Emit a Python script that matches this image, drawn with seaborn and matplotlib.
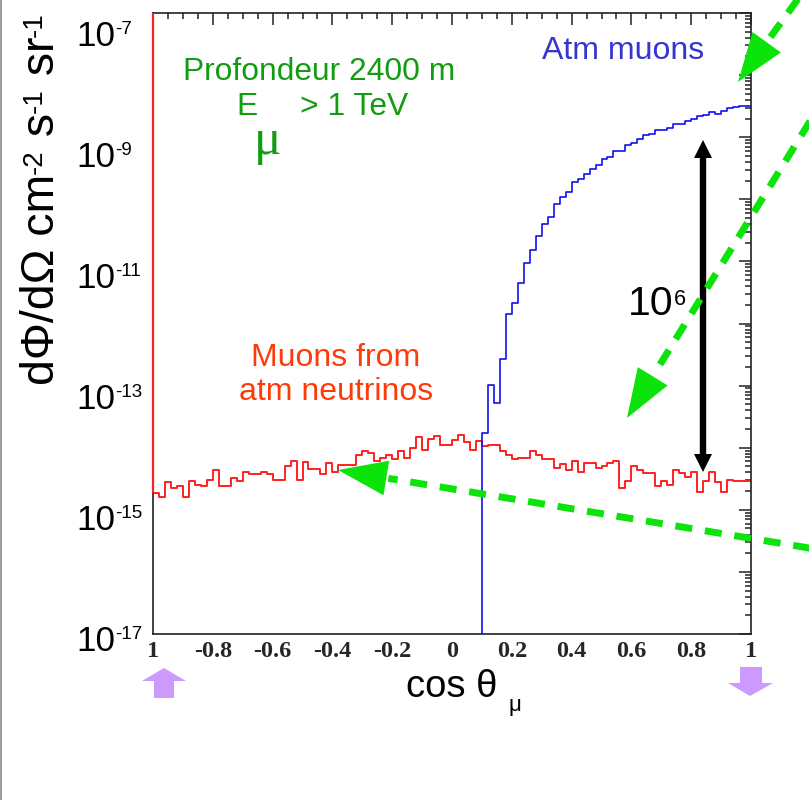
import numpy as np
import pandas as pd
import matplotlib
matplotlib.use("Agg")
import matplotlib.pyplot as plt
import seaborn as sns
from matplotlib.lines import Line2D
from matplotlib.patches import Polygon
from matplotlib.ticker import FixedLocator, LogLocator, MultipleLocator, NullFormatter
from matplotlib import transforms

# ---------------------------------------------------------------------------
# Data: 100 bins in cos(theta_mu) between -1 and 1 (width 0.02)
# ---------------------------------------------------------------------------
bin_edges = [round(-1.0 + 0.02 * i, 2) for i in range(101)]
bin_centers = [round(-0.99 + 0.02 * i, 2) for i in range(100)]

# log10 of dPhi/dOmega [cm^-2 s^-1 sr^-1] for muons induced by atmospheric neutrinos
nu_muon_log10 = [
    -14.73, -14.80, -14.56, -14.65, -14.61, -14.80, -14.54, -14.60, -14.62, -14.52,
    -14.36, -14.62, -14.62, -14.49, -14.54, -14.39, -14.42, -14.42, -14.39, -14.43,
    -14.52, -14.52, -14.29, -14.21, -14.52, -14.23, -14.34, -14.34, -14.43, -14.25,
    -14.39, -14.28, -14.28, -14.28, -14.12, -14.05, -14.09, -14.22, -14.17, -14.12,
    -14.18, -14.05, -14.16, -14.00, -13.83, -14.04, -13.86, -13.81, -13.95, -13.96,
    -13.88, -13.80, -13.91, -14.03, -13.90, -13.98, -13.96, -13.95, -14.05, -14.11,
    -14.18, -14.16, -14.16, -14.06, -14.11, -14.18, -14.18, -14.33, -14.27, -14.36,
    -14.21, -14.39, -14.24, -14.25, -14.33, -14.29, -14.25, -14.21, -14.65, -14.54,
    -14.29, -14.36, -14.40, -14.40, -14.61, -14.54, -14.60, -14.36, -14.40, -14.47,
    -14.39, -14.71, -14.54, -14.39, -14.56, -14.72, -14.52, -14.53, -14.53, -14.53,
]

# log10 flux of atmospheric muons, only for cos(theta_mu) >= 0.10 (bins 55..99)
atm_muon_first_bin = 55
atm_muon_log10 = [
    -13.76, -12.99, -13.28, -12.57, -11.85, -11.67, -11.34, -11.03, -10.81, -10.59,
    -10.39, -10.28, -10.08, -9.97, -9.88, -9.72, -9.68, -9.59, -9.51, -9.44,
    -9.35, -9.32, -9.22, -9.22, -9.13, -9.09, -9.03, -8.97, -8.95, -8.88,
    -8.88, -8.85, -8.78, -8.78, -8.74, -8.70, -8.66, -8.64, -8.59, -8.62,
    -8.58, -8.53, -8.51, -8.49, -8.49,
]

x_tick_values = [-1.0, -0.8, -0.6, -0.4, -0.2, 0.0, 0.2, 0.4, 0.6, 0.8, 1.0]
x_tick_labels = ["1", "-0.8", "-0.6", "-0.4", "-0.2", "0", "0.2", "0.4", "0.6", "0.8", "1"]
y_label_exponents = [-7, -9, -11, -13, -15, -17]

nu_flux = 10.0 ** np.array(nu_muon_log10)
atm_flux = np.zeros(len(bin_centers))
atm_flux[atm_muon_first_bin:] = 10.0 ** np.array(atm_muon_log10)

df = pd.DataFrame({"cos_theta": bin_centers, "nu_flux": nu_flux, "atm_flux": atm_flux})

# ---------------------------------------------------------------------------
# Style
# ---------------------------------------------------------------------------
sns.set_style("white")
plt.rcParams["font.family"] = ["Liberation Sans", "DejaVu Sans"]

W, H = 809.0, 800.0
fig = plt.figure(figsize=(W / 100, H / 100), dpi=100)
fig.patch.set_facecolor("white")
ax = fig.add_axes([153 / W, 1 - 634 / H, 598 / W, 621 / H])
ax.set_yscale("log")
renderer = fig.canvas.get_renderer()


def fpx(x, y):
    """Figure-fraction coordinates from pixel position (origin top-left)."""
    return x / W, 1.0 - y / H


def chain_text(x, y, pieces, rotation=0, **kw):
    """Write text pieces one after another; each piece is (text, size, rise_px)."""
    ang = np.deg2rad(rotation)
    d = np.array([np.cos(ang), np.sin(ang)])
    n = np.array([-np.sin(ang), np.cos(ang)])
    pos = np.array([x, H - y], float)
    for s, size, rise in pieces:
        p = pos + n * rise
        t = fig.text(p[0] / W, p[1] / H, s, rotation=rotation, rotation_mode="anchor",
                     ha="left", va="baseline", fontsize=size, **kw)
        bb = t.get_window_extent(renderer)
        pos = pos + d * (bb.width if rotation == 0 else bb.height)


red = "#ff2020"
blue = "#1010ee"

# Histograms
sns.histplot(data=df, x="cos_theta", weights="nu_flux", bins=bin_edges,
             element="step", fill=False, color=red, linewidth=1.4, ax=ax)
sns.histplot(data=df, x="cos_theta", weights="atm_flux", bins=bin_edges,
             element="step", fill=False, color=blue, linewidth=1.2, ax=ax)

ax.set_xlim(-1, 1)
ax.set_ylim(1e-17, 1e-7)
ax.set_xlabel("")
ax.set_ylabel("")

# left edge of the neutrino histogram runs up to the frame top
ax.vlines(-1.0, nu_flux[0], 1e-7, color=red, lw=1.6, clip_on=False, zorder=5)

# Axes frame and ticks
for side in ["top", "bottom", "right", "left"]:
    ax.spines[side].set_color("#222222")
    ax.spines[side].set_linewidth(1.2)

ax.xaxis.set_major_locator(FixedLocator(x_tick_values))
ax.xaxis.set_minor_locator(MultipleLocator(0.05))
ax.set_xticklabels(x_tick_labels, fontfamily="Liberation Serif",
                   fontweight="bold", fontsize=17.5)
ax.yaxis.set_major_locator(FixedLocator([10.0 ** k for k in range(-17, -6)]))
ax.yaxis.set_minor_locator(LogLocator(base=10, subs=np.arange(2, 10), numticks=100))
ax.yaxis.set_major_formatter(NullFormatter())
ax.yaxis.set_minor_formatter(NullFormatter())
ax.tick_params(which="both", direction="in", top=True, right=True,
               color="#222222", width=1.1)
ax.tick_params(which="major", length=8.6)
ax.tick_params(which="minor", length=4.3)
ax.tick_params(axis="x", which="major", pad=5)

# Decade labels 10^k on the left axis (label sits a little below its tick)
ytrans = ax.get_yaxis_transform()
label_drop = [32.5, 29.4, 26.3, 23.2, 20.1, 17.1]
for k, drop in zip(y_label_exponents, label_drop):
    base = transforms.offset_copy(ytrans, fig=fig, x=-38, y=-drop, units="dots")
    ax.text(0, 10.0 ** k, "10", transform=base, ha="right", va="baseline",
            fontsize=25.2, color="black")
    sup = transforms.offset_copy(ytrans, fig=fig, x=-38, y=-drop + 12, units="dots")
    ax.text(0, 10.0 ** k, f"-{-k}", transform=sup, ha="left", va="baseline",
            fontsize=13.5, color="black")

# Axis titles
chain_text(54, 385, [("dΦ/dΩ cm", 33.5, 0), ("-2", 20, 12), (" s", 33.5, 0),
                     ("-1", 20, 12), (" sr", 33.5, 0), ("-1", 20, 12)],
           rotation=90, color="black")
fig.text(*fpx(406, 687), "cos θ", ha="left", va="center", fontsize=27.5, color="black")
fig.text(*fpx(509, 706), "μ", ha="left", va="center", fontsize=16, color="black")

# In-plot annotations
green = "#129c12"
fig.text(*fpx(319, 72), "Profondeur 2400 m", ha="center", va="center",
         fontsize=22.9, color=green)
fig.text(*fpx(236, 107), "E", ha="left", va="center", fontsize=22.9, color=green)
fig.text(*fpx(254, 154), "μ", ha="left", va="baseline", fontsize=37,
         fontfamily="Liberation Serif", color=green)
fig.text(*fpx(300, 107), "> 1 TeV", ha="left", va="center", fontsize=22.9, color=green)
fig.text(*fpx(623, 51), "Atm muons", ha="center", va="center", fontsize=23,
         color="#3535d0")
fig.text(*fpx(336, 375), "Muons from\natm neutrinos", ha="center", va="center",
         fontsize=23, color="#ff3a0a", linespacing=1.17)

# Ratio arrow (10^6) between the two curves
fig_tr = fig.transFigure
shaft = Line2D(*zip(fpx(703, 155), fpx(703, 457)), transform=fig_tr, color="black",
               lw=4.6, solid_capstyle="butt")
fig.add_artist(shaft)
for tip, base_y in [((703, 140), 158), ((703, 472), 454)]:
    fig.add_artist(Polygon([fpx(*tip), fpx(694, base_y), fpx(712, base_y)],
                           closed=True, transform=fig_tr, color="black", lw=0))
fig.text(*fpx(628, 304), "10", ha="left", va="center", fontsize=29.5, color="black")
fig.text(*fpx(674, 289), "6", ha="left", va="top", fontsize=15.5, color="black")


# Green dashed pointer arrows
def dashed_arrow(tail, tip, color="#0be30b", head_len=49, head_w=35, lw=5.0):
    tail = np.array(tail, float)
    tip = np.array(tip, float)
    d = tip - tail
    d /= np.hypot(*d)
    perp = np.array([-d[1], d[0]])
    base = tip - d * head_len
    line = Line2D(*zip(fpx(*tail), fpx(*(base - d * 2))), transform=fig_tr,
                  color=color, lw=lw, dashes=(2.45, 1.85), dash_capstyle="butt")
    fig.add_artist(line)
    corners = [tip, base + perp * head_w / 2, base - perp * head_w / 2]
    fig.add_artist(Polygon([fpx(*c) for c in corners], closed=True,
                           transform=fig_tr, color=color, lw=0))


dashed_arrow((803, -8), (738, 82))
dashed_arrow((812, 118), (627, 418))
dashed_arrow((812, 548.5), (338, 470))

# Purple direction markers below the x axis
purple = "#cc99ff"
up = [(164, 668), (186, 681), (174, 681), (174, 698), (154, 698), (154, 681), (142, 681)]
down = [(750, 696), (773, 683), (762, 683), (762, 667), (740, 667), (740, 683), (728, 683)]
for shape in (up, down):
    fig.add_artist(Polygon([fpx(*p) for p in shape], closed=True, transform=fig_tr,
                           color=purple, lw=0))

# Slide border on the left edge
fig.add_artist(Line2D(*zip(fpx(0.8, 0), fpx(0.8, 800)), transform=fig_tr,
                      color="#8a8a8a", lw=1.2))

fig.savefig("out.png", dpi=100, facecolor="white")
